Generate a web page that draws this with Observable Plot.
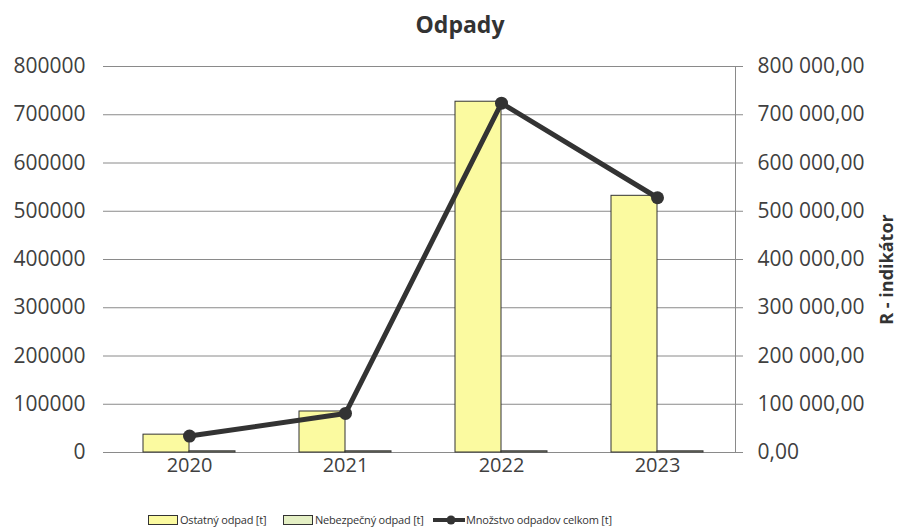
<!DOCTYPE html>
<html>
<head>
<meta charset="utf-8">
<script src="https://cdn.jsdelivr.net/npm/d3@7"></script>
<script src="https://cdn.jsdelivr.net/npm/@observablehq/plot@0.6"></script>
<style>
  body { margin: 0; background: #fff; font-family: "Open Sans", sans-serif; color: #404040; }
  #wrap { position: relative; width: 901px; height: 532px; }
  #title { position: absolute; left: 0; top: 8px; width: 920px; text-align: center; font-weight: bold; font-size: 23px; color: #333; }
  #chart { position: absolute; left: 0; top: 48px; }
  .leg { position: absolute; top: 512px; font-size: 11px; color: #333; display: flex; align-items: center; white-space: nowrap; letter-spacing: -0.2px; }
  .sw { display: inline-block; width: 28px; height: 8px; border: 1px solid #333; margin-right: 2px; }
</style>
</head>
<body>
<div id="wrap">
  <div id="title">Odpady</div>
  <div id="chart"></div>
  <div class="leg" style="left:148px"><span class="sw" style="background:#fbfaa0"></span>Ostatný odpad [t]</div>
  <div class="leg" style="left:283px"><span class="sw" style="background:#e4efc4"></span>Nebezpečný odpad [t]</div>
  <div class="leg" style="left:433px"><svg width="32" height="12" style="margin-right:1px"><line x1="0" y1="6" x2="32" y2="6" stroke="#333" stroke-width="4"/><circle cx="18" cy="6" r="4.5" fill="#333"/></svg>Množstvo odpadov celkom [t]</div>
</div>
<script>
const years = ["2020", "2021", "2022", "2023"];
const ostatny = [37000, 85000, 727000, 532000];
const nebezpecny = [2500, 2500, 2500, 2500];
const celkom = [34000, 81000, 724000, 528000];
const yTicks = [0, 100000, 200000, 300000, 400000, 500000, 600000, 700000, 800000];

const data = years.map((y, i) => ({year: y, ostatny: ostatny[i], nebezpecny: nebezpecny[i], celkom: celkom[i]}));

const fmtR = d => d3.format(",.2f")(d).replace(/,/g, " ").replace(".", ",");

const chart = Plot.plot({
  width: 901,
  height: 444,
  marginTop: 18,
  marginBottom: 40,
  marginLeft: 110,
  marginRight: 166,
  style: {fontFamily: "Open Sans, sans-serif", fontSize: "20px", color: "#404040", background: "transparent"},
  x: {domain: years, padding: 0},
  y: {domain: [0, 800000]},
  marks: [
    Plot.ruleY(yTicks, {stroke: "#8a8a8a", strokeWidth: 1}),
    Plot.frame({anchor: "right", stroke: "#8a8a8a"}),
    Plot.axisY({anchor: "left", ticks: yTicks, tickSize: 7, tickPadding: 18, tickFormat: d => String(d), stroke: "#8a8a8a", fill: "#404040", fontSize: 21, label: null}),
    Plot.axisY({anchor: "right", ticks: yTicks, tickSize: 7, tickPadding: 15, tickFormat: fmtR, stroke: "#8a8a8a", fill: "#404040", fontSize: 21, label: null}),
    Plot.axisX({tickSize: 0, tickPadding: 5, fontSize: 20, fill: "#404040", label: null}),
    Plot.barY(data, {x: "year", y: "ostatny", fill: "#fbfaa0", stroke: "#333", strokeWidth: 1, insetLeft: 32, insetRight: 78}),
    Plot.barY(data, {x: "year", y: "nebezpecny", fill: "#e4efc4", stroke: "#333", strokeWidth: 1, insetLeft: 78, insetRight: 32}),
    Plot.line(data, {x: "year", y: "celkom", stroke: "#333", strokeWidth: 5}),
    Plot.dot(data, {x: "year", y: "celkom", r: 6.5, fill: "#333", stroke: "none"}),
    Plot.text(["R - indikátor"], {frameAnchor: "right", dx: 152, dy: 10, rotate: -90, textAnchor: "middle", fontWeight: "bold", fontSize: 18, fill: "#333"})
  ]
});
document.getElementById("chart").appendChild(chart);
</script>
</body>
</html>
